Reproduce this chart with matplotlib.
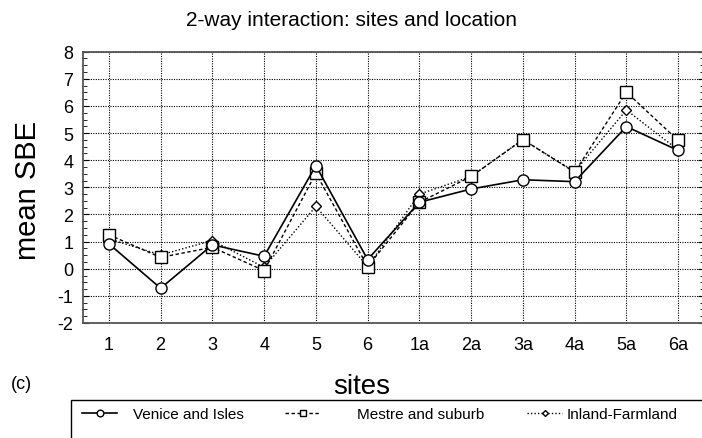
import numpy as np
import matplotlib
matplotlib.use('Agg')
import matplotlib.pyplot as plt
from matplotlib.patches import Rectangle
from matplotlib.ticker import MultipleLocator

plt.rcParams['font.family'] = ['Liberation Sans', 'DejaVu Sans']
plt.rcParams['axes.unicode_minus'] = False

sites = ['1', '2', '3', '4', '5', '6', '1a', '2a', '3a', '4a', '5a', '6a']
venice = [0.92, -0.72, 0.88, 0.46, 3.80, 0.34, 2.45, 2.94, 3.28, 3.21, 5.24, 4.36]
mestre = [1.25, 0.42, 0.79, -0.07, 3.52, 0.08, 2.45, 3.40, 4.76, 3.56, 6.51, 4.73]
inland = [1.10, 0.51, 1.04, 0.05, 2.30, 0.08, 2.75, 3.40, 4.76, 3.58, 5.85, 4.38]
labels = ['Venice and Isles', 'Mestre and suburb', 'Inland-Farmland']

fig = plt.figure(figsize=(7.02, 4.39), dpi=100)
ax = fig.add_axes([83 / 702, 1 - 324 / 439, 621 / 702, 271.3 / 439])

x = np.arange(1, len(sites) + 1)
l1, = ax.plot(x, venice, '-', color='black', lw=1.2, marker='o', ms=8,
              mfc='white', mec='black', mew=1.0, zorder=5)
l2, = ax.plot(x, mestre, color='black', lw=1.0, ls=(0, (2.5, 1.8)), marker='s', ms=8,
              mfc='white', mec='black', mew=1.0, zorder=4)
l3, = ax.plot(x, inland, color='black', lw=1.0, ls=(0, (1, 1.5)), marker='D', ms=5,
              mfc='white', mec='black', mew=1.0, zorder=3)

ax.set_xlim(0.5, 12.5)
ax.set_ylim(-2, 8)
ax.set_xticks(x)
ax.set_xticklabels(sites)
ax.set_yticks(range(-2, 9))
ax.yaxis.set_minor_locator(MultipleLocator(0.25))
ax.tick_params(axis='both', labelsize=13)
ax.tick_params(axis='x', length=0, pad=9)
ax.tick_params(axis='y', which='both', direction='in', right=True, pad=7)
ax.tick_params(axis='y', which='major', length=4)
ax.tick_params(axis='y', which='minor', length=3)
ax.grid(True, which='major', color='black', ls=(0, (1, 1.2)), lw=0.8)
for s in ax.spines.values():
    s.set_color('#555555')
    s.set_linewidth(1.3)

fig.text(352 / 702, 1 - 21 / 439, '2-way interaction: sites and location',
         ha='center', va='center', fontsize=15)
fig.text(28 / 702, 1 - 190 / 439, 'mean SBE', rotation=90,
         ha='center', va='center', fontsize=21)
fig.text(362 / 702, 1 - 387 / 439, 'sites', ha='center', va='center', fontsize=20)
fig.text(21 / 702, 1 - 385 / 439, '(c)', ha='center', va='center', fontsize=13)

fig.patches.append(Rectangle((71 / 702, -0.05), 0.95, 1 - 401 / 439 + 0.05,
                             transform=fig.transFigure, fill=False,
                             edgecolor='black', lw=1.0))

# one legend per entry so each sits where the reference puts it
handle_x = [82, 285, 527]
text_pad = [1.05, 2.4, 0.3]
for h, lab, hx, tp in zip([l1, l2, l3], labels, handle_x, text_pad):
    leg = fig.legend([h], [lab], loc='center left', frameon=False,
                     bbox_to_anchor=(hx / 702, 1 - 415 / 439), fontsize=11,
                     handlelength=2.3, handletextpad=tp, borderpad=0,
                     borderaxespad=0, markerscale=0.6)

fig.savefig('out.png', dpi=100)
